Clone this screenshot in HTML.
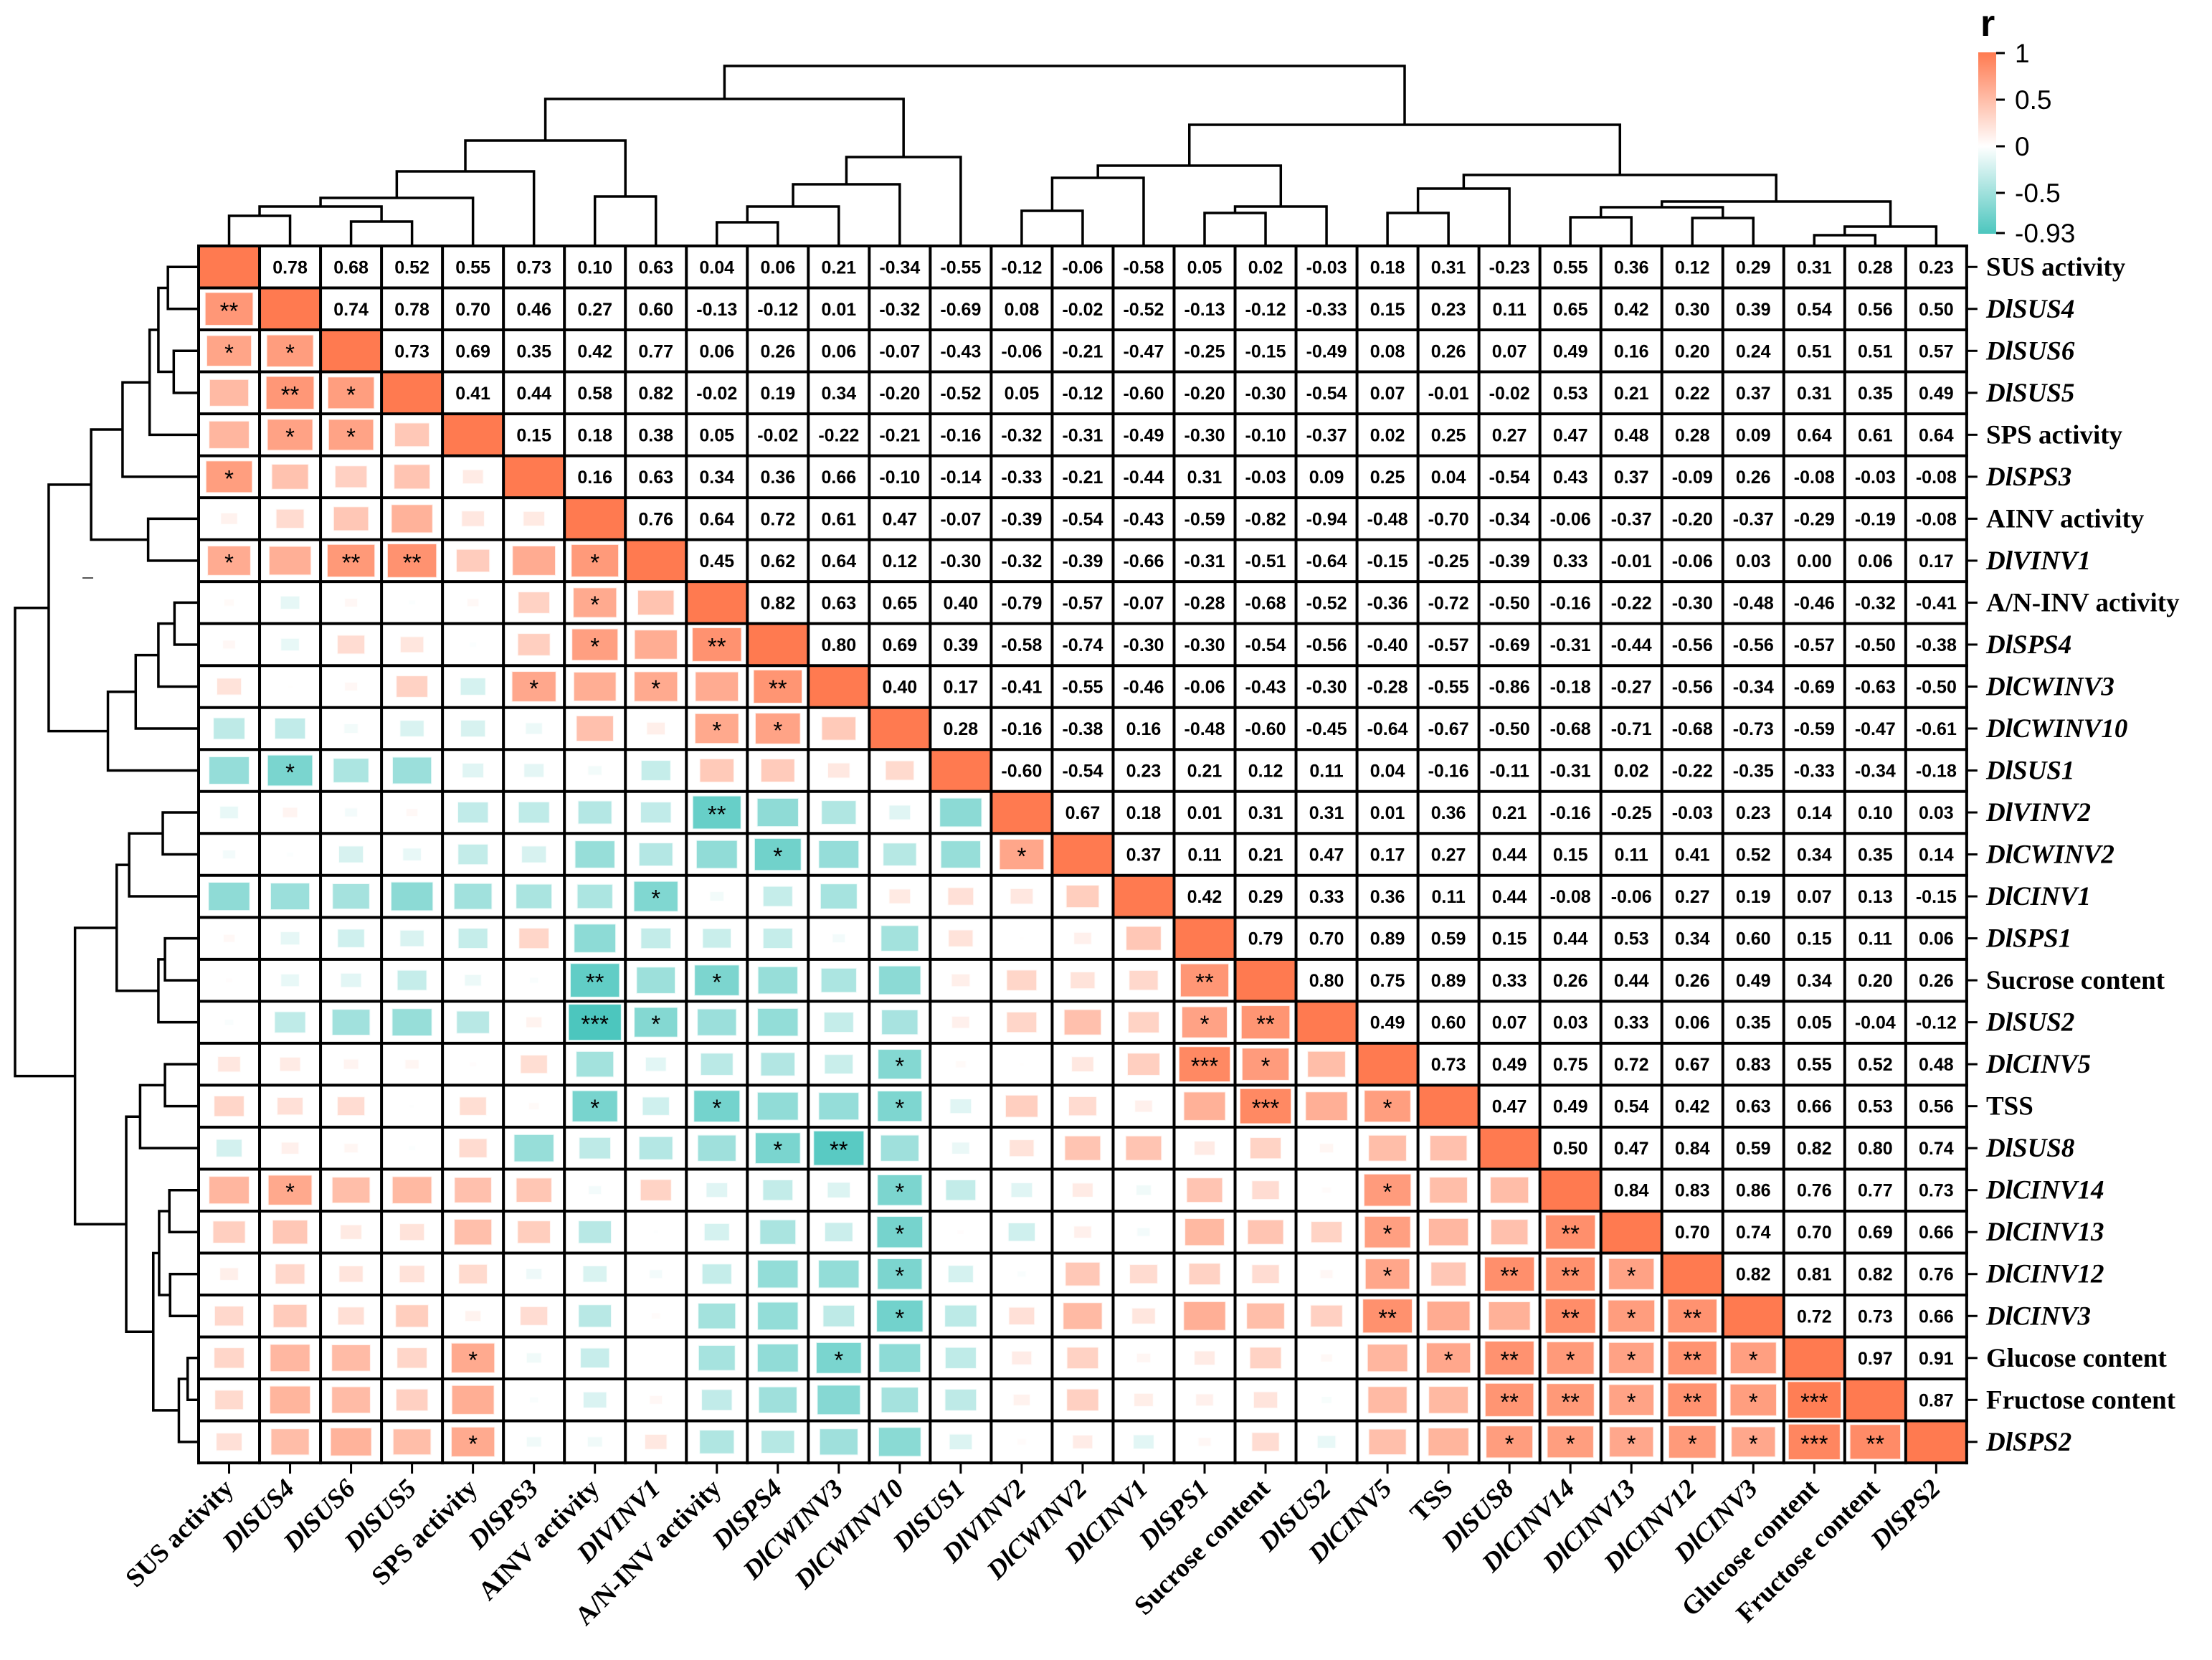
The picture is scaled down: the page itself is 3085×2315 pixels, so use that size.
<!DOCTYPE html>
<html><head><meta charset="utf-8"><style>
html,body{margin:0;padding:0;background:#fff}
svg{display:block}
.num{font-family:"Liberation Sans",sans-serif;font-weight:bold;font-size:25px}
.star{font-family:"Liberation Sans",sans-serif;font-size:33px}
.lab{font-family:"Liberation Serif",serif;font-weight:bold;font-size:37px}
.cb{font-family:"Liberation Sans",sans-serif;font-size:37px}
</style></head><body>
<svg id="chart" xmlns="http://www.w3.org/2000/svg" width="3085" height="2315" viewBox="0 0 3085 2315">
<defs><linearGradient id="cbg" x1="0" y1="0" x2="0" y2="1">
<stop offset="0" stop-color="#FF7A50"/><stop offset="0.518" stop-color="#FFFFFF"/><stop offset="1" stop-color="#4CC6BE"/></linearGradient></defs>
<g id="dendro-top"></g>
<g id="dendro-left"></g>
<g id="cells"></g>
<g id="labels"></g>
<g>
<text x="2762" y="50" font-family="Liberation Sans,sans-serif" font-weight="bold" font-size="52">r</text>
<rect x="2759" y="73" width="25" height="253" fill="url(#cbg)"/>
<g stroke="#000" stroke-width="3"><line x1="2784" y1="74" x2="2796" y2="74"/><line x1="2784" y1="139" x2="2796" y2="139"/><line x1="2784" y1="204" x2="2796" y2="204"/><line x1="2784" y1="269" x2="2796" y2="269"/><line x1="2784" y1="325" x2="2796" y2="325"/></g>
<text class="cb" x="2810" y="87">1</text>
<text class="cb" x="2810" y="152">0.5</text>
<text class="cb" x="2810" y="217">0</text>
<text class="cb" x="2810" y="282">-0.5</text>
<text class="cb" x="2810" y="338">-0.93</text>
</g>
<line x1="115" y1="806" x2="130" y2="806" stroke="#555" stroke-width="2"/>
</svg>
<script>
const labels=["SUS activity","DlSUS4","DlSUS6","DlSUS5","SPS activity","DlSPS3","AINV activity","DlVINV1","A/N-INV activity","DlSPS4","DlCWINV3","DlCWINV10","DlSUS1","DlVINV2","DlCWINV2","DlCINV1","DlSPS1","Sucrose content","DlSUS2","DlCINV5","TSS","DlSUS8","DlCINV14","DlCINV13","DlCINV12","DlCINV3","Glucose content","Fructose content","DlSPS2"];
const italic=[0,1,1,1,0,1,0,1,0,1,1,1,1,1,1,1,1,0,1,1,0,1,1,1,1,1,0,0,1];
const upper=[
[0.78,0.68,0.52,0.55,0.73,0.10,0.63,0.04,0.06,0.21,-0.34,-0.55,-0.12,-0.06,-0.58,0.05,0.02,-0.03,0.18,0.31,-0.23,0.55,0.36,0.12,0.29,0.31,0.28,0.23],
[0.74,0.78,0.70,0.46,0.27,0.60,-0.13,-0.12,0.01,-0.32,-0.69,0.08,-0.02,-0.52,-0.13,-0.12,-0.33,0.15,0.23,0.11,0.65,0.42,0.30,0.39,0.54,0.56,0.50],
[0.73,0.69,0.35,0.42,0.77,0.06,0.26,0.06,-0.07,-0.43,-0.06,-0.21,-0.47,-0.25,-0.15,-0.49,0.08,0.26,0.07,0.49,0.16,0.20,0.24,0.51,0.51,0.57],
[0.41,0.44,0.58,0.82,-0.02,0.19,0.34,-0.20,-0.52,0.05,-0.12,-0.60,-0.20,-0.30,-0.54,0.07,-0.01,-0.02,0.53,0.21,0.22,0.37,0.31,0.35,0.49],
[0.15,0.18,0.38,0.05,-0.02,-0.22,-0.21,-0.16,-0.32,-0.31,-0.49,-0.30,-0.10,-0.37,0.02,0.25,0.27,0.47,0.48,0.28,0.09,0.64,0.61,0.64],
[0.16,0.63,0.34,0.36,0.66,-0.10,-0.14,-0.33,-0.21,-0.44,0.31,-0.03,0.09,0.25,0.04,-0.54,0.43,0.37,-0.09,0.26,-0.08,-0.03,-0.08],
[0.76,0.64,0.72,0.61,0.47,-0.07,-0.39,-0.54,-0.43,-0.59,-0.82,-0.94,-0.48,-0.70,-0.34,-0.06,-0.37,-0.20,-0.37,-0.29,-0.19,-0.08],
[0.45,0.62,0.64,0.12,-0.30,-0.32,-0.39,-0.66,-0.31,-0.51,-0.64,-0.15,-0.25,-0.39,0.33,-0.01,-0.06,0.03,0.00,0.06,0.17],
[0.82,0.63,0.65,0.40,-0.79,-0.57,-0.07,-0.28,-0.68,-0.52,-0.36,-0.72,-0.50,-0.16,-0.22,-0.30,-0.48,-0.46,-0.32,-0.41],
[0.80,0.69,0.39,-0.58,-0.74,-0.30,-0.30,-0.54,-0.56,-0.40,-0.57,-0.69,-0.31,-0.44,-0.56,-0.56,-0.57,-0.50,-0.38],
[0.40,0.17,-0.41,-0.55,-0.46,-0.06,-0.43,-0.30,-0.28,-0.55,-0.86,-0.18,-0.27,-0.56,-0.34,-0.69,-0.63,-0.50],
[0.28,-0.16,-0.38,0.16,-0.48,-0.60,-0.45,-0.64,-0.67,-0.50,-0.68,-0.71,-0.68,-0.73,-0.59,-0.47,-0.61],
[-0.60,-0.54,0.23,0.21,0.12,0.11,0.04,-0.16,-0.11,-0.31,0.02,-0.22,-0.35,-0.33,-0.34,-0.18],
[0.67,0.18,0.01,0.31,0.31,0.01,0.36,0.21,-0.16,-0.25,-0.03,0.23,0.14,0.10,0.03],
[0.37,0.11,0.21,0.47,0.17,0.27,0.44,0.15,0.11,0.41,0.52,0.34,0.35,0.14],
[0.42,0.29,0.33,0.36,0.11,0.44,-0.08,-0.06,0.27,0.19,0.07,0.13,-0.15],
[0.79,0.70,0.89,0.59,0.15,0.44,0.53,0.34,0.60,0.15,0.11,0.06],
[0.80,0.75,0.89,0.33,0.26,0.44,0.26,0.49,0.34,0.20,0.26],
[0.49,0.60,0.07,0.03,0.33,0.06,0.35,0.05,-0.04,-0.12],
[0.73,0.49,0.75,0.72,0.67,0.83,0.55,0.52,0.48],
[0.47,0.49,0.54,0.42,0.63,0.66,0.53,0.56],
[0.50,0.47,0.84,0.59,0.82,0.80,0.74],
[0.84,0.83,0.86,0.76,0.77,0.73],
[0.70,0.74,0.70,0.69,0.66],
[0.82,0.81,0.82,0.76],
[0.72,0.73,0.66],
[0.97,0.91],
[0.87],
[]];
const stars=[[1,0,"**"],[2,0,"*"],[2,1,"*"],[3,1,"**"],[3,2,"*"],[4,1,"*"],[4,2,"*"],[5,0,"*"],
[7,0,"*"],[7,2,"**"],[7,3,"**"],[7,6,"*"],[8,6,"*"],[9,6,"*"],[9,8,"**"],[10,5,"*"],[10,7,"*"],[10,9,"**"],
[11,8,"*"],[11,9,"*"],[12,1,"*"],[13,8,"**"],[14,9,"*"],[14,13,"*"],[15,7,"*"],
[17,6,"**"],[17,8,"*"],[17,16,"**"],[18,6,"***"],[18,7,"*"],[18,16,"*"],[18,17,"**"],
[19,11,"*"],[19,16,"***"],[19,17,"*"],[20,6,"*"],[20,8,"*"],[20,11,"*"],[20,17,"***"],[20,19,"*"],
[21,9,"*"],[21,10,"**"],[22,1,"*"],[22,11,"*"],[22,19,"*"],[23,11,"*"],[23,19,"*"],[23,22,"**"],
[24,11,"*"],[24,19,"*"],[24,21,"**"],[24,22,"**"],[24,23,"*"],
[25,11,"*"],[25,19,"**"],[25,22,"**"],[25,23,"*"],[25,24,"**"],
[26,4,"*"],[26,10,"*"],[26,20,"*"],[26,21,"**"],[26,22,"*"],[26,23,"*"],[26,24,"**"],[26,25,"*"],
[27,21,"**"],[27,22,"**"],[27,23,"*"],[27,24,"**"],[27,25,"*"],[27,26,"***"],
[28,4,"*"],[28,21,"*"],[28,22,"*"],[28,23,"*"],[28,24,"*"],[28,25,"*"],[28,26,"***"],[28,27,"**"]];
const merges=[[0,1,42],[2,3,34],[29,30,55],[31,4,67],[32,5,104],[6,7,69],[33,34,147],[8,9,33],[36,10,55],[37,11,86],[38,12,124],[35,39,205],
[13,14,49],[41,15,95],[16,17,46],[43,18,55],[42,44,112],[19,20,46],[46,21,80],[22,23,40],[24,25,39],[48,49,54],[26,27,15],[51,28,27],[50,52,62],[47,53,99],[45,54,169],[40,55,251]];

const NS="http://www.w3.org/2000/svg";
const X0=277,Y0=343,CW=85.03,CH=58.52,N=labels.length;
const xs=i=>X0+CW*(i+0.5), ys=i=>Y0+CH*(i+0.5);
function mk(tag,at,parent){const e=document.createElementNS(NS,tag);for(const k in at)e.setAttribute(k,at[k]);parent.appendChild(e);return e;}
const M=[];for(let i=0;i<N;i++){M.push(new Array(N).fill(1));}
for(let i=0;i<N;i++)for(let k=0;k<upper[i].length;k++){const j=i+1+k;M[i][j]=upper[i][k];M[j][i]=upper[i][k];}
const POS=[255,122,80],NEG=[76,198,190];
function col(v){const c=v>=0?POS:NEG;const t=v>=0?Math.min(v,1):Math.min(-v/0.93,1);
return "rgb("+c.map(x=>Math.round(255+(x-255)*t)).join(",")+")";}
const cells=document.getElementById('cells');
for(let i=0;i<N;i++)for(let j=0;j<N;j++){
 const v=M[i][j];const cx=xs(j),cy=ys(i);
 if(i===j){const r=mk('rect',{x:X0+CW*j,y:Y0+CH*i,width:CW,height:CH,fill:col(1)},cells);
  
  }
 else if(j>i){const t=mk('text',{x:cx,y:cy+9,'text-anchor':'middle',class:'num'},cells);t.textContent=v.toFixed(2);
  
  }
 else{const f=Math.sqrt(Math.abs(v))*0.9;const w=CW*f,h=CH*f;
  const r=mk('rect',{x:cx-w/2,y:cy-h/2,width:w,height:h,fill:col(v),stroke:'rgba(255,255,255,0.8)','stroke-width':2},cells);
  
  }
}
for(const s of stars){const t=mk('text',{x:xs(s[1]),y:ys(s[0])+14,'text-anchor':'middle',class:'star'},cells);t.textContent=s[2];
 
 }
const grid=mk('g',{stroke:'#000','stroke-width':4},cells);


for(let i=0;i<=N;i++){mk('line',{x1:X0+CW*i,y1:Y0-2,x2:X0+CW*i,y2:Y0+CH*N+2},grid);mk('line',{x1:X0-2,y1:Y0+CH*i,x2:X0+CW*N+2,y2:Y0+CH*i},grid);}
const lab=document.getElementById('labels');
for(let i=0;i<N;i++){
 mk('line',{x1:X0+CW*N,y1:ys(i),x2:X0+CW*N+15,y2:ys(i),stroke:'#000','stroke-width':3},lab);
 mk('line',{x1:xs(i),y1:Y0+CH*N,x2:xs(i),y2:Y0+CH*N+15,stroke:'#000','stroke-width':3},lab);
 const r=mk('text',{x:2770,y:ys(i)+12,class:'lab','font-style':italic[i]?'italic':'normal'},lab);r.textContent=labels[i];
 
 
 const bx=xs(i)+8,by=2078;
 const b=mk('text',{x:bx,y:by,class:'lab','text-anchor':'end','font-style':italic[i]?'italic':'normal',transform:'rotate(-45 '+bx+' '+by+')'},lab);b.textContent=labels[i];
 
 
}
const pos=[];for(let i=0;i<N;i++)pos.push({p:i,h:0});
for(const m of merges)pos.push({p:(pos[m[0]].p+pos[m[1]].p)/2,h:m[2],a:m[0],b:m[1]});
const dt=document.getElementById('dendro-top'),dl=document.getElementById('dendro-left');
for(let k=N;k<pos.length;k++){
 const n=pos[k],A=pos[n.a],B=pos[n.b];
 const xa=X0+CW*(A.p+0.5),xb=X0+CW*(B.p+0.5);
 const pt=mk('path',{d:`M${xa},${Y0-A.h}V${Y0-n.h}H${xb}V${Y0-B.h}`,fill:'none',stroke:'#000','stroke-width':3.5},dt);
 
 
 const ya=Y0+CH*(A.p+0.5),yb=Y0+CH*(B.p+0.5),s=1.02;
 const pl=mk('path',{d:`M${X0-A.h*s},${ya}H${X0-n.h*s}V${yb}H${X0-B.h*s}`,fill:'none',stroke:'#000','stroke-width':3.5},dl);
 
 
}
</script>
</body></html>
